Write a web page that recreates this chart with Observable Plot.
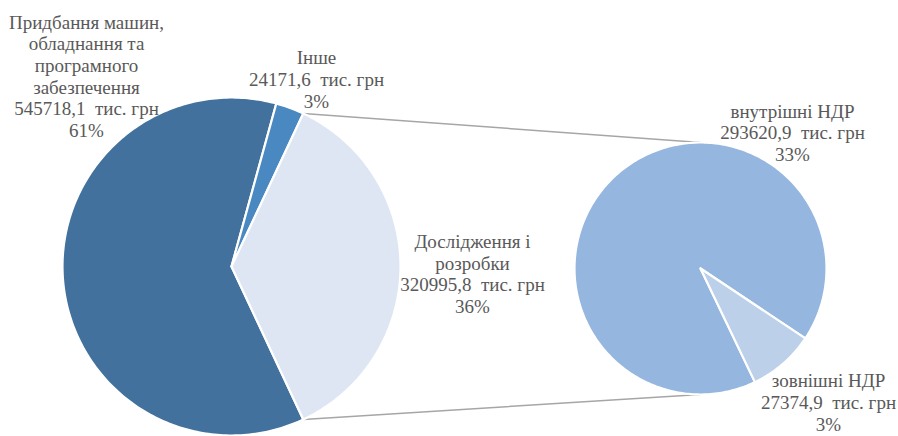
<!DOCTYPE html>
<html>
<head>
<meta charset="utf-8">
<script src="https://cdn.jsdelivr.net/npm/d3@7"></script>
<script src="https://cdn.jsdelivr.net/npm/@observablehq/plot@0.6"></script>
<style>
  html, body { margin: 0; padding: 0; background: #fff; }
  #chart svg { display: block; }
</style>
</head>
<body>
<div id="chart"></div>
<script>
// ---- data ----
const mainCategories = ["Придбання машин, обладнання та програмного забезпечення", "Інше", "Дослідження і розробки"];
const mainValues = [545718.1, 24171.6, 320995.8];
const mainPercents = ["61%", "3%", "36%"];
const mainLabelLines = [["Придбання машин,", "обладнання та", "програмного", "забезпечення"], ["Інше"], ["Дослідження і", "розробки"]];

const subCategories = ["внутрішні НДР", "зовнішні НДР"];
const subValues = [293620.9, 27374.9];
const subPercents = ["33%", "3%"];
const subLabelLines = [["внутрішні НДР"], ["зовнішні НДР"]];

const unit = "тис. грн";

// ---- layout / style ----
const W = 898, H = 436;
const pie1 = {cx: 231, cy: 266, r: 169};
const pie2 = {cx: 700, cy: 268, r: 126, start: 154.4 * Math.PI / 180};
const mainColors = ["#41719c", "#4a88c2", "#dde6f2"];
const subColors = ["#95b6df", "#bcd0ea"];
const mainLabelPos = [[86, 75.5], [316, 78.5], [472, 273]];
const subLabelPos = [[792, 132], [828, 401.5]];
const fontSize = 19;

const fmt = v => v.toFixed(1).replace(".", ",");
const pt = (p, a, r = p.r) => [p.cx + r * Math.sin(a), p.cy - r * Math.cos(a)];

function slicePolygon(p, a0, a1, key) {
  const pts = [{key, x: p.cx, y: p.cy}];
  const n = Math.max(2, Math.ceil(Math.abs(a1 - a0) / (Math.PI / 180)));
  for (let i = 0; i <= n; i++) {
    const [x, y] = pt(p, a0 + (a1 - a0) * i / n);
    pts.push({key, x, y});
  }
  pts.push({key, x: p.cx, y: p.cy});
  return pts;
}

// main pie: the aggregated slice (last) is centred on the right-hand horizontal
const mainTotal = d3.sum(mainValues);
const spans = mainValues.map(v => v / mainTotal * 2 * Math.PI);
const lightStart = Math.PI / 2 - spans[2] / 2;
const mainAngles = [];
{
  let a = lightStart - spans[1] - spans[0];
  for (let i = 0; i < mainValues.length; i++) { mainAngles.push([a, a + spans[i]]); a += spans[i]; }
}
const mainSlices = mainAngles.flatMap(([a0, a1], i) => slicePolygon(pie1, a0, a1, mainCategories[i]));

// second pie
const subTotal = d3.sum(subValues);
const subAngles = [];
{
  let a = pie2.start;
  for (const v of subValues) { const s = v / subTotal * 2 * Math.PI; subAngles.push([a, a + s]); a += s; }
}
const subSlices = subAngles.flatMap(([a0, a1], i) => slicePolygon(pie2, a0, a1, subCategories[i]));

// connector lines
const [l0, l1] = mainAngles[2];
const topA = pt(pie1, l0), botA = pt(pie1, l1);
const connectors = [
  {key: "top", x: topA[0], y: topA[1]}, {key: "top", x: pie2.cx, y: pie2.cy - pie2.r},
  {key: "bot", x: botA[0], y: botA[1]}, {key: "bot", x: pie2.cx, y: pie2.cy + pie2.r}
];

const labels = [
  ...mainCategories.map((c, i) => ({
    x: mainLabelPos[i][0], y: mainLabelPos[i][1],
    text: [...mainLabelLines[i], fmt(mainValues[i]) + "\u00a0 " + unit, mainPercents[i]].join("\n")
  })),
  ...subCategories.map((c, i) => ({
    x: subLabelPos[i][0], y: subLabelPos[i][1],
    text: [...subLabelLines[i], fmt(subValues[i]) + "\u00a0 " + unit, subPercents[i]].join("\n")
  }))
];

const colorDomain = [...mainCategories, ...subCategories];
const colorRange = [...mainColors, ...subColors];

const chart = Plot.plot({
  width: W, height: H,
  margin: 0,
  x: {domain: [0, W], range: [0, W], axis: null},
  y: {domain: [0, H], range: [0, H], axis: null},
  color: {domain: colorDomain, range: colorRange},
  style: {background: "#fff"},
  marks: [
    Plot.line(connectors, {x: "x", y: "y", z: "key", stroke: "#a6a6a6", strokeWidth: 1.5}),
    Plot.line(mainSlices, {x: "x", y: "y", z: "key", fill: "key", stroke: "#fff", strokeWidth: 2.2, strokeLinejoin: "round", curve: "linear"}),
    Plot.line(subSlices, {x: "x", y: "y", z: "key", fill: "key", stroke: "#fff", strokeWidth: 2.2, strokeLinejoin: "round", curve: "linear"}),
    Plot.text(labels, {x: "x", y: "y", text: "text", fill: "#595959", fontSize, lineHeight: 1.14,
      fontFamily: "'Liberation Serif', 'DejaVu Serif', serif", textAnchor: "middle", frameAnchor: "middle"})
  ]
});
document.getElementById("chart").append(chart);
</script>
</body>
</html>
